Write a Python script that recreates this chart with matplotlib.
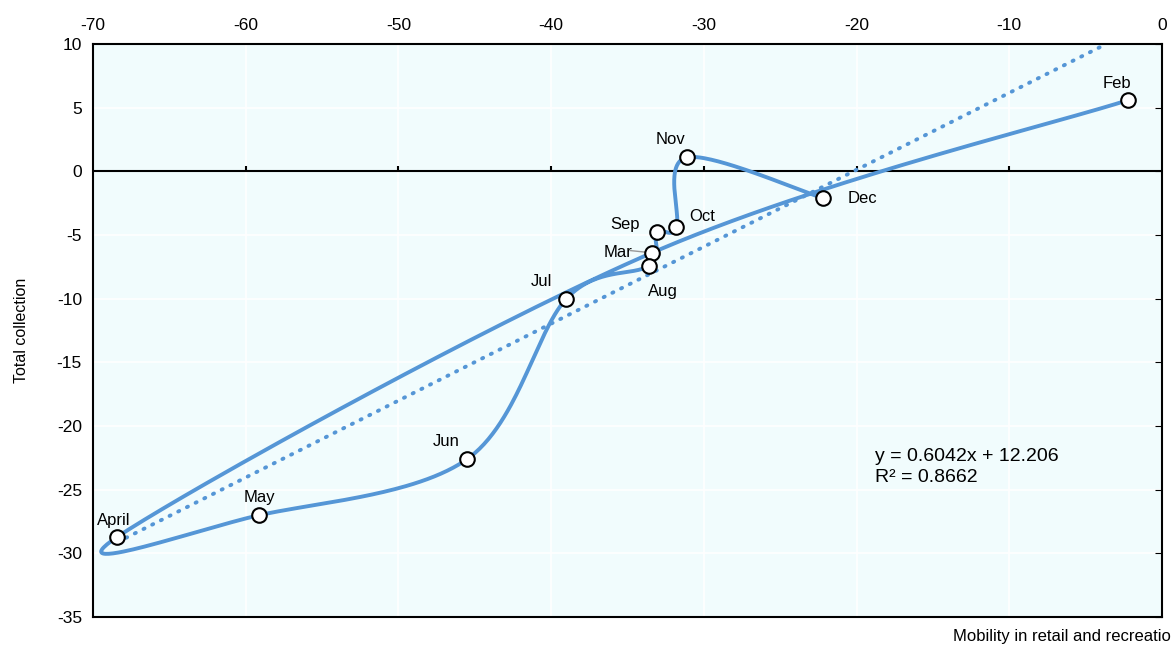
import numpy as np
import matplotlib
matplotlib.use('Agg')
import matplotlib.pyplot as plt
from matplotlib import font_manager

names = {f.name for f in font_manager.fontManager.ttflist}
font = 'Liberation Sans Narrow' if 'Liberation Sans Narrow' in names else 'Liberation Sans'
plt.rcParams['font.family'] = [font, 'DejaVu Sans']
plt.rcParams['axes.unicode_minus'] = False

months = ['Feb', 'Mar', 'April', 'May', 'Jun', 'Jul', 'Aug', 'Sep', 'Oct', 'Nov', 'Dec']
mobility = [-2.2, -33.4, -68.4, -59.1, -45.5, -39.0, -33.6, -33.1, -31.8, -31.1, -22.2]
collection = [5.6, -6.4, -28.7, -27.0, -22.6, -10.0, -7.4, -4.8, -4.4, 1.1, -2.1]
slope, intercept = 0.6042, 12.206
x_ticks = [-70, -60, -50, -40, -30, -20, -10, 0]
y_ticks = [-35, -30, -25, -20, -15, -10, -5, 0, 5, 10]

blue = '#5596D6'

# label offsets in points (dx, dy, ha)
label_pos = {'Feb': (-8, 12, 'center'), 'Mar': (-14, 0, 'right'), 'April': (-3, 12, 'center'),
             'May': (0, 13, 'center'), 'Jun': (-15, 13, 'center'), 'Jul': (-18, 12, 'center'),
             'Aug': (10, -19, 'center'), 'Sep': (-12, 6, 'right'), 'Oct': (9, 8, 'left'),
             'Nov': (-12, 13, 'center'), 'Dec': (18, 0, 'left')}


def catmull_rom(px, py, n=60):
    # smoothed line like a spreadsheet "smooth line" (uniform Catmull-Rom)
    pts = np.column_stack([px, py])
    pts = np.vstack([pts[0], pts, pts[-1]])
    out = []
    for i in range(1, len(pts) - 2):
        p0, p1, p2, p3 = pts[i - 1], pts[i], pts[i + 1], pts[i + 2]
        c1 = p1 + (p2 - p0) / 6
        c2 = p2 - (p3 - p1) / 6
        t = np.linspace(0, 1, n)[:, None]
        seg = (1 - t) ** 3 * p1 + 3 * (1 - t) ** 2 * t * c1 + 3 * (1 - t) * t ** 2 * c2 + t ** 3 * p2
        out.append(seg)
    return np.vstack(out)


fig = plt.figure(figsize=(11.71, 6.45), dpi=100)
ax = fig.add_axes([93 / 1171, 1 - 617 / 645, (1162 - 93) / 1171, (617 - 44) / 645])
ax.set_facecolor('#F1FCFD')
ax.set_xlim(-70, 0)
ax.set_ylim(-35, 10)
ax.set_xticks(x_ticks)
ax.set_yticks(y_ticks)
ax.grid(True, color='white', linewidth=1.2)
ax.set_axisbelow(True)

ax.xaxis.tick_top()
ax.tick_params(axis='x', length=0, labelsize=12.5, pad=8)
ax.tick_params(axis='y', left=False, right=True, direction='in', length=5, labelsize=12.5, pad=8)
for s in ax.spines.values():
    s.set_color('black')
    s.set_linewidth(1.5)

ax.axhline(0, color='black', linewidth=1.5, zorder=2)
ax.vlines(x_ticks[1:-1], 0, 0.4, color='black', linewidth=1.5, zorder=2)

# smoothing done in pixel-like space so the curve looks like the original
sx, sy = 15.27, 12.73
curve = catmull_rom(np.array(mobility) * sx, np.array(collection) * sy)
ax.plot(curve[:, 0] / sx, curve[:, 1] / sy, color=blue, linewidth=2.8, zorder=3,
        solid_capstyle='round')

tx = np.array([min(mobility), (10 - intercept) / slope])
ax.plot(tx, slope * tx + intercept, color=blue, linewidth=2.8, linestyle=(0, (0.3, 2.2)),
        dash_capstyle='round', zorder=3)

ax.scatter(mobility, collection, s=110, facecolor='white', edgecolor='black', linewidth=1.5, zorder=4)

for m, x, y in zip(months, mobility, collection):
    dx, dy, ha = label_pos[m]
    ax.annotate(m, (x, y), xytext=(dx, dy), textcoords='offset points', ha=ha, va='center',
                fontsize=12, zorder=5)
ax.annotate('', (-33.4, -6.4), xytext=(-35.0, -6.2), arrowprops=dict(arrowstyle='-', color='#999999', lw=1))

ax.text(-18.8, -23.2, 'y = 0.6042x + 12.206\nR² = 0.8662', fontsize=14, va='center', ha='left',
        linespacing=1.3)

ax.set_ylabel('Total collection', fontsize=11.5, labelpad=20)
fig.text(1180 / 1171, 1 - 636 / 645, 'Mobility in retail and recreation', fontsize=12, ha='right',
         va='center')

fig.savefig('out.png', dpi=100)
